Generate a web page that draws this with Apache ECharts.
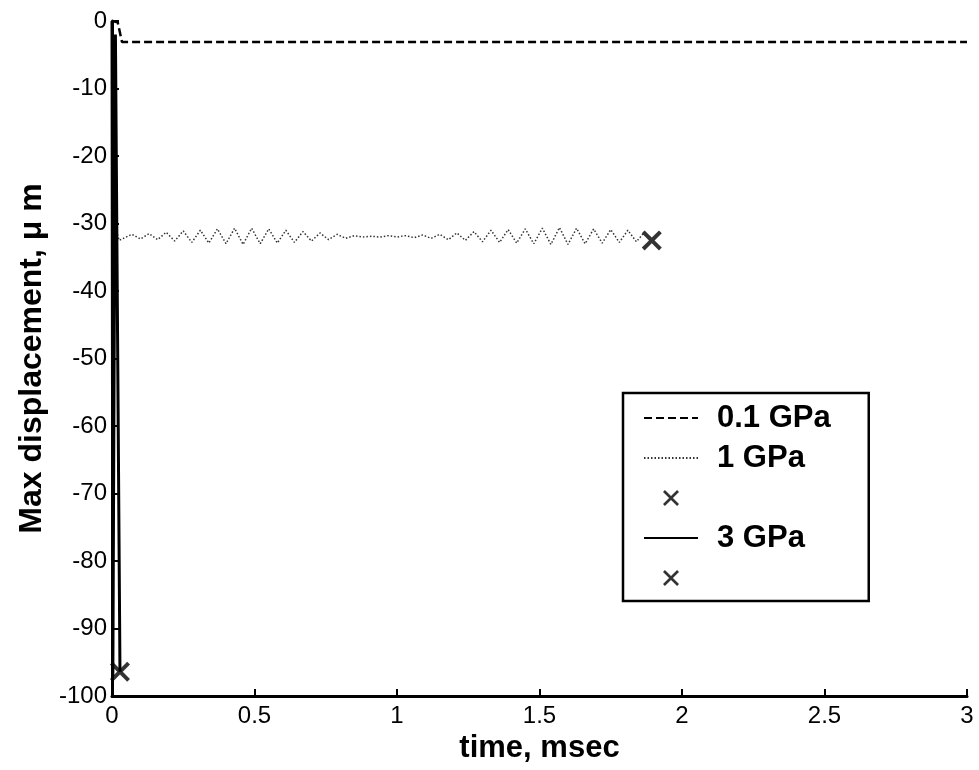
<!DOCTYPE html>
<html>
<head>
<meta charset="utf-8">
<script src="https://cdn.jsdelivr.net/npm/echarts@6/dist/echarts.min.js"></script>
<style>
html,body{margin:0;padding:0;background:#fff;}
#c{width:979px;height:770px;}
</style>
</head>
<body>
<div id="c"></div>
<script>
// ---- data ----
var xTicks = [0, 0.5, 1, 1.5, 2, 2.5, 3];
var yTicks = [-100, -90, -80, -70, -60, -50, -40, -30, -20, -10, 0];

var t01 = [0, 0.02, 0.035, 3];
var v01 = [0, -0.2, -3.1, -3.1];

var t1 = [0, 0.008, 0.015, 0.025, 0.04, 0.07, 0.10, 0.13, 0.16, 0.19, 0.22, 0.25, 0.28, 0.31, 0.34, 0.37, 0.40, 0.43, 0.46, 0.49, 0.52, 0.55, 0.58, 0.61, 0.64, 0.67, 0.70, 0.73, 0.76, 0.79, 0.82, 0.85, 0.88, 0.91, 0.94, 0.97, 1.00, 1.03, 1.06, 1.09, 1.12, 1.15, 1.18, 1.21, 1.24, 1.27, 1.30, 1.33, 1.36, 1.39, 1.42, 1.45, 1.48, 1.51, 1.54, 1.57, 1.60, 1.63, 1.66, 1.69, 1.72, 1.75, 1.78, 1.81, 1.84, 1.87];
var v1 = [0, -20, -31, -32.5, -32.2, -31.6, -32.3, -31.5, -32.4, -31.3, -32.6, -31.1, -32.8, -31.0, -32.9, -30.8, -33.0, -30.7, -33.1, -30.7, -33.0, -30.8, -32.9, -31.0, -32.8, -31.2, -32.6, -31.4, -32.4, -31.6, -32.2, -31.8, -32.0, -31.9, -32.0, -31.8, -32.0, -31.8, -32.1, -31.7, -32.2, -31.6, -32.4, -31.4, -32.5, -31.2, -32.7, -31.0, -32.8, -30.9, -32.9, -30.8, -33.0, -30.7, -33.1, -30.6, -33.1, -30.7, -33.0, -30.8, -32.9, -30.9, -32.8, -31.0, -32.7, -31.2];
var end1 = [[1.894, -32.5]];

var t3 = [0, 0.003, 0.012, 0.028];
var v3 = [0, -97, -2, -96.4];
var end3 = [[0.028, -96.4]];

var names = ['0.1 GPa', '1 GPa', '1 GPa end', '3 GPa', '3 GPa end'];

function zip(a, b) { return a.map(function (x, i) { return [x, b[i]]; }); }

var X_PATH = 'path://M14,0 L50,36 L86,0 L100,14 L64,50 L100,86 L86,100 L50,64 L14,100 L0,86 L36,50 L0,14 Z';
var X_LEG = 'path://M12,0 L50,38 L88,0 L100,12 L62,50 L100,88 L88,100 L50,62 L12,100 L0,88 L38,50 L0,12 Z';

var chart = echarts.init(document.getElementById('c'), null, {renderer: 'canvas'});
var FONT = 'Liberation Sans, Arial, Helvetica, sans-serif';
var hideSym = {opacity: 0};

chart.setOption({
  animation: false,
  backgroundColor: '#fff',
  grid: {left: 112, right: 12, top: 21, bottom: 74, containLabel: false},
  xAxis: {
    type: 'value', min: 0, max: 3, interval: 0.5,
    name: 'time, msec', nameLocation: 'middle', nameGap: 33,
    nameTextStyle: {fontFamily: FONT, fontWeight: 'bold', fontSize: 31, color: '#000'},
    axisLine: {show: true, onZero: false, lineStyle: {color: '#000', width: 3}},
    axisTick: {show: true, inside: true, length: 7, lineStyle: {color: '#000', width: 2}},
    axisLabel: {fontFamily: FONT, fontSize: 24, color: '#000', margin: 8,
      formatter: function (v) { return String(v); }},
    splitLine: {show: false}
  },
  yAxis: {
    type: 'value', min: -100, max: 0, interval: 10,
    name: 'Max displacement, \u03bc m', nameLocation: 'middle', nameGap: 62,
    nameTextStyle: {fontFamily: FONT, fontWeight: 'bold', fontSize: 32, color: '#000'},
    axisLine: {show: true, onZero: false, lineStyle: {color: '#000', width: 3}},
    axisTick: {show: true, inside: true, length: 7, lineStyle: {color: '#000', width: 2}},
    axisLabel: {fontFamily: FONT, fontSize: 24, color: '#000', margin: 5},
    splitLine: {show: false}
  },
  legend: {
    data: [
      {name: names[0], itemStyle: hideSym},
      {name: names[1], itemStyle: hideSym},
      {name: names[2], icon: X_LEG},
      {name: names[3], itemStyle: hideSym},
      {name: names[4], icon: X_LEG}
    ],
    orient: 'vertical',
    left: 623, top: 393,
    padding: [9, 38, 7, 20],
    itemWidth: 54, itemHeight: 16, itemGap: 8,
    borderColor: '#000', borderWidth: 2.5, backgroundColor: '#fff',
    textStyle: {fontFamily: FONT, fontWeight: 'bold', fontSize: 31, color: '#000', lineHeight: 32, padding: [0, 0, 0, 14]},
    formatter: function (n) { return n.indexOf('end') >= 0 ? ' ' : n; },
    selectedMode: false
  },
  series: [
    {name: names[0], type: 'line', data: zip(t01, v01), showSymbol: false,
      lineStyle: {color: '#000', width: 2.5, type: [8, 4]}, itemStyle: {color: '#000'}},
    {name: names[1], type: 'line', data: zip(t1, v1), showSymbol: false,
      lineStyle: {color: '#333', width: 1.5, type: [1.5, 2]}, itemStyle: {color: '#333'}},
    {name: names[2], type: 'scatter', data: end1, symbol: X_PATH, symbolSize: 20,
      itemStyle: {color: '#000'}},
    {name: names[3], type: 'line', data: zip(t3, v3), showSymbol: false,
      lineStyle: {color: '#000', width: 3}, itemStyle: {color: '#000'}},
    {name: names[4], type: 'scatter', data: end3, symbol: X_PATH, symbolSize: 20,
      itemStyle: {color: '#000'}}
  ]
});
</script>
</body>
</html>
